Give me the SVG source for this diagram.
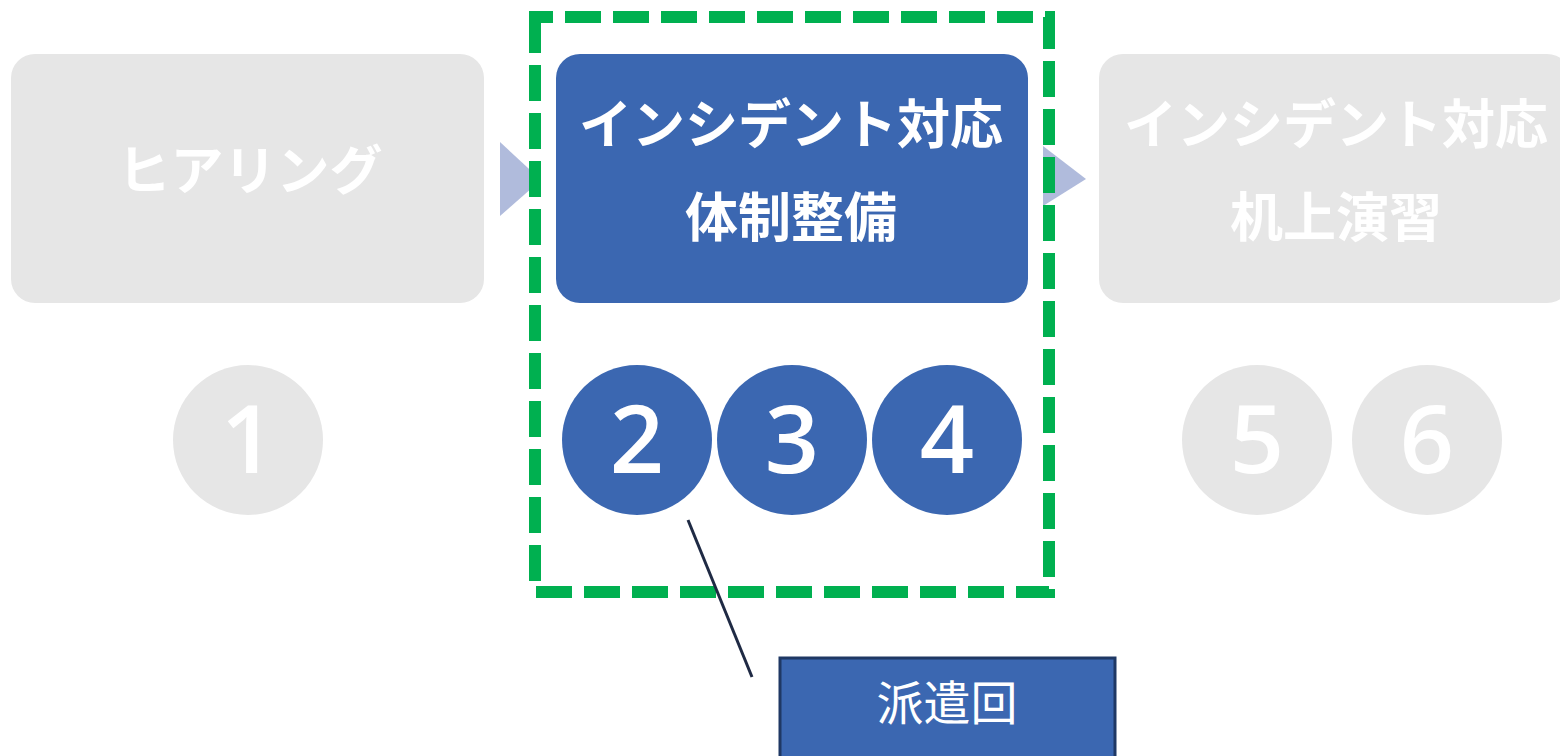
<svg xmlns="http://www.w3.org/2000/svg" width="1560" height="756" viewBox="0 0 1560 756">
<style>
.gbox{fill:#E6E6E6}
.bbox{fill:#3B67B1}
.tri{fill:#B0BBDC}
.h{font-family:"Noto Sans CJK JP","Noto Sans",sans-serif;font-weight:700;font-size:53px;fill:#FFFFFF;text-anchor:middle}
.gc{fill:#E6E6E6}
.bc{fill:#3B67B1}
.num{font-family:"Open Sans","Noto Sans",sans-serif;font-weight:600;font-size:95px;fill:#FFFFFF;text-anchor:middle}
.cl{font-family:"Noto Sans CJK JP","Noto Sans",sans-serif;font-weight:400;font-size:47px;fill:#FFFFFF;text-anchor:middle}
</style>
<rect width="1560" height="756" fill="#FFFFFF"/>
<g id="connectors">
<polygon class="tri" points="500,142 541,180 500,216"/>
<polygon class="tri" points="1043,146 1086,179 1043,206"/>
</g>
<g id="node-hearing">
<rect class="gbox" x="11" y="54" width="473" height="249" rx="24"/>
<text class="h" x="250" y="190">ヒアリング</text>
</g>
<g id="node-taisei">
<rect class="bbox" x="556" y="54" width="472" height="249" rx="24"/>
<text class="h" x="791" y="144">インシデント対応</text>
<text class="h" x="791" y="237">体制整備</text>
</g>
<g id="node-enshu">
<rect class="gbox" x="1099" y="54" width="472" height="249" rx="24"/>
<text class="h" x="1336" y="144">インシデント対応</text>
<text class="h" x="1336" y="237">机上演習</text>
</g>
<g id="circle-1"><circle class="gc" cx="248" cy="440" r="75"/><text class="num" x="248" y="473">1</text></g>
<g id="circle-2"><circle class="bc" cx="637" cy="440" r="75"/><text class="num" x="637" y="473">2</text></g>
<g id="circle-3"><circle class="bc" cx="792" cy="440" r="75"/><text class="num" x="792" y="473">3</text></g>
<g id="circle-4"><circle class="bc" cx="947" cy="440" r="75"/><text class="num" x="947" y="473">4</text></g>
<g id="circle-5"><circle class="gc" cx="1257" cy="440" r="75"/><text class="num" x="1257" y="473">5</text></g>
<g id="circle-6"><circle class="gc" cx="1427" cy="440" r="75"/><text class="num" x="1427" y="473">6</text></g>
<g id="highlight">
<path d="M535,17 H1049 V592 H535 Z" fill="none" stroke="#00B050" stroke-width="12" stroke-dasharray="36 12" stroke-dashoffset="18"/>
</g>
<g id="callout-line">
<line x1="688" y1="520" x2="752" y2="677" stroke="#1F2A44" stroke-width="3"/>
</g>
<g id="callout">
<rect x="780" y="658" width="335" height="110" fill="#3B67B1" stroke="#1F3864" stroke-width="3"/>
<text class="cl" x="947" y="720">派遣回</text>
</g>
</svg>
